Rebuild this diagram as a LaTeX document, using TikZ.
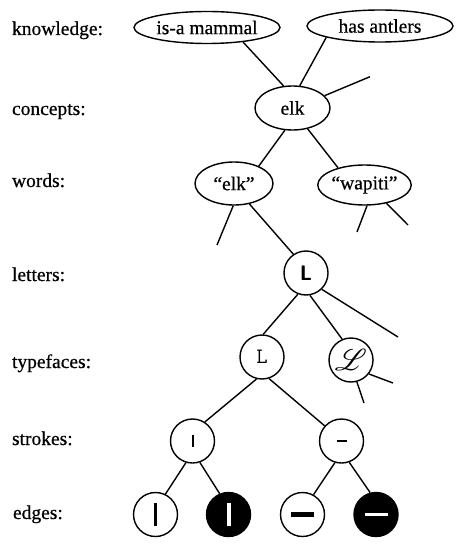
\documentclass[tikz,border=0pt]{standalone}
\usepackage{fontspec}
\setmainfont{Liberation Serif}[FakeBold=0.6]
\usepackage{mathrsfs}
\usepackage{graphicx}
\usetikzlibrary{shapes.geometric}

\begin{document}
\begin{tikzpicture}[x=1pt, y=-1pt, line width=1.4pt,
  level/.style={anchor=base west, font=\fontsize{19.5}{21}\selectfont},
  idea/.style={draw, ellipse, inner sep=0pt, font=\fontsize{19.5}{21}\selectfont},
  glyph/.style={draw, circle, inner sep=0pt, minimum size=44pt},
  ink/.style={glyph, fill=black, text=white}]

 \useasboundingbox (0,0) rectangle (458,545);

 %%%%%%%%%% Niveaux %%%%%%%%%%
 \node[level] (lknow) at (8,35) {knowledge:};
 \node[level] (lconc) at (8,115) {concepts:};
 \node[level] (lword) at (8,187) {words:};
 \node[level] (llett) at (8,281) {letters:};
 \node[level] (ltype) at (8,368) {typefaces:};
 \node[level] (lstro) at (8,445) {strokes:};
 \node[level] (ledge) at (9,519) {edges:};

 %%%%%%%%%% Ellipses %%%%%%%%%%
 \node[idea, minimum width=146pt, minimum height=32pt] (mammal) at (207,27.5) {is-a mammal};
 \node[idea, minimum width=146pt, minimum height=32pt] (antlers) at (380,26) {has antlers};
 \node[idea, minimum width=75pt, minimum height=44pt] (elk) at (292.5,108) {elk};
 \node[idea, minimum width=78pt, minimum height=43pt] (elkw) at (234,183.5) {``elk''};
 \node[idea, minimum width=75pt, minimum height=40pt] (wapiti) at (364.5,185) {``wapiti''};

 %%%%%%%%%% Cercles %%%%%%%%%%
 \node[glyph, font=\fontsize{21}{21}\sffamily\bfseries] (letL) at (306,273) {L};
 \node[glyph, font=\fontsize{22}{22}\ttfamily] (typeL) at (262,357) {L};
 \node[glyph, font=\fontsize{20}{20}\selectfont] (scriptL) at (351,360) {\scalebox{1.45}{$\mathscr{L}$}};
 \node[glyph] (strokeV) at (192.5,441) {\rule{2pt}{12pt}};
 \node[glyph] (strokeH) at (341.5,441) {\rule{10pt}{2pt}};
 \node[glyph] (edgeA) at (155.5,514.5) {\rule{3.5pt}{23pt}};
 \node[ink] (edgeB) at (228.5,514.5) {\rule{4pt}{23pt}};
 \node[glyph] (edgeC) at (302.5,514.5) {\rule{23pt}{4.5pt}};
 \node[ink] (edgeD) at (376,514.5) {\rule{23pt}{3.5pt}};

 %%%%%%%%%% Bouts libres %%%%%%%%%%
 \coordinate (s1) at (370,76.7);
 \coordinate (s2) at (217,245);
 \coordinate (s3) at (357,232);
 \coordinate (s4) at (408,225);
 \coordinate (s5) at (398,337);
 \coordinate (s6) at (393,383);
 \coordinate (s7) at (364,403);

 %%%%%%%%%% Liens %%%%%%%%%%
 \draw (mammal.338) -- (elk.112);
 \draw (antlers.192) -- (elk.72);
 \draw (elk.21) -- (s1);
 \draw (elk.251) -- (elkw.35);
 \draw (elk.306) -- (wapiti.147);
 \draw (elkw.268) -- (s2);
 \draw (elkw.307) -- (letL.124);
 \draw (wapiti.277) -- (s3);
 \draw (wapiti.320) -- (s4);
 \draw (letL.249) -- (typeL.87);
 \draw (letL.280) -- (scriptL.113);
 \draw (letL.314) -- (s5);
 \draw (scriptL.322) -- (s6);
 \draw (scriptL.285) -- (s7);
 \draw (typeL.256) -- (strokeV.57);
 \draw (typeL.288) -- (strokeH.138);
 \draw (strokeV.253) -- (edgeA.64);
 \draw (strokeV.289) -- (edgeB.113);
 \draw (strokeH.253) -- (edgeC.61);
 \draw (strokeH.290) -- (edgeD.105);

\end{tikzpicture}
\end{document}
